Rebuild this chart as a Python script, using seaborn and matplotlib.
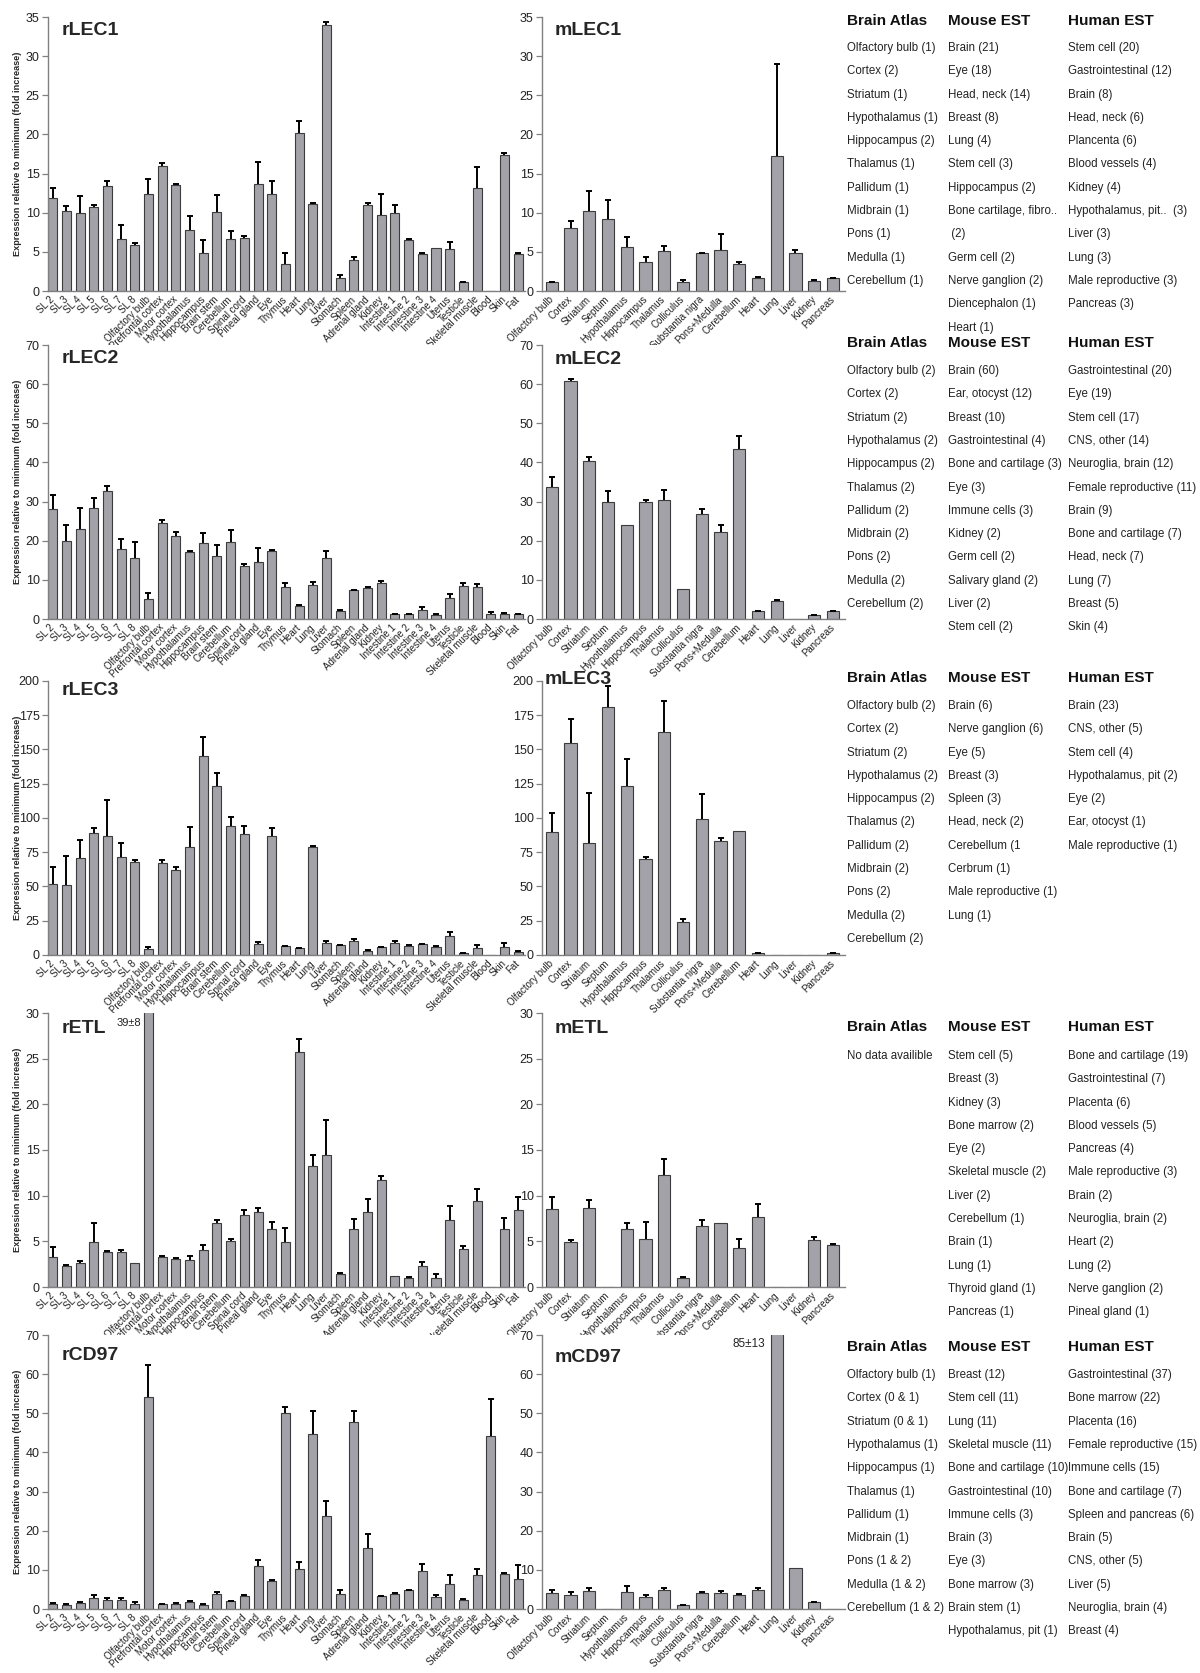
import numpy as np
import pandas as pd
import matplotlib
matplotlib.use('Agg')
import matplotlib.pyplot as plt
import seaborn as sns

# tissues
rat_tissues = ['SL 2', 'SL 3', 'SL 4', 'SL 5', 'SL 6', 'SL 7', 'SL 8', 'Olfactory bulb',
               'Prefrontal cortex', 'Motor cortex', 'Hypothalamus', 'Hippocampus', 'Brain stem',
               'Cerebellum', 'Spinal cord', 'Pineal gland', 'Eye', 'Thymus', 'Heart', 'Lung',
               'Liver', 'Stomach', 'Spleen', 'Adrenal gland', 'Kidney', 'Intestine 1',
               'Intestine 2', 'Intestine 3', 'Intestine 4', 'Uterus', 'Testicle',
               'Skeletal muscle', 'Blood', 'Skin', 'Fat']
mouse_tissues = ['Olfactory bulb', 'Cortex', 'Striatum', 'Septum', 'Hypothalamus', 'Hippocampus',
                 'Thalamus', 'Colliculus', 'Substantia nigra', 'Pons+Medulla', 'Cerebellum',
                 'Heart', 'Lung', 'Liver', 'Kidney', 'Pancreas']

# rat values (mean, upper error)
rlec1 = [11.9, 10.2, 9.9, 10.7, 13.4, 6.6, 5.9, 12.4, 16.0, 13.5, 7.8, 4.9, 10.1, 6.7, 6.8, 13.7,
         12.4, 3.5, 20.2, 11.1, 34.0, 1.6, 3.9, 11.0, 9.7, 10.0, 6.5, 4.7, 5.5, 5.4, 1.1, 13.1,
         0, 17.4, 4.7]
rlec1_err = [1.3, 0.6, 2.2, 0.3, 0.7, 1.8, 0.2, 1.9, 0.3, 0.2, 1.8, 1.6, 2.1, 1.0, 0.2, 2.8, 1.7,
             1.3, 1.5, 0.2, 0.4, 0.5, 0.4, 0.3, 2.7, 1.0, 0.1, 0.2, 0, 0.8, 0.05, 2.7, 0, 0.2, 0.1]
rlec2 = [28.0, 19.9, 22.9, 28.3, 32.7, 17.8, 15.6, 5.1, 24.4, 21.3, 17.2, 19.4, 16.2, 19.6, 13.6,
         14.5, 17.3, 8.2, 3.4, 8.8, 15.7, 2.1, 7.4, 8.0, 9.2, 1.3, 1.3, 2.4, 1.1, 5.4, 8.5, 8.1,
         1.4, 1.4, 1.2]
rlec2_err = [3.7, 4.0, 5.5, 2.6, 1.3, 2.6, 4.0, 1.5, 1.0, 0.9, 0.1, 2.5, 2.7, 3.2, 0.4, 3.6, 0.4,
             1.1, 0.1, 0.6, 1.7, 0.2, 0.1, 0.3, 0.5, 0.05, 0.1, 0.6, 0.1, 1.0, 0.8, 0.8, 0.3, 0.2, 0.1]
rlec3 = [51.5, 51, 71, 89, 87, 71.5, 68, 4.5, 67.5, 62, 79, 145.5, 123, 94, 88, 8, 86.5, 6.5, 5,
         78.5, 9, 7, 10.5, 3, 5.5, 9, 6.5, 8, 6, 14, 1.2, 5, 0, 6, 2.5]
rlec3_err = [12.5, 21.5, 13, 3.5, 26.5, 10, 1.5, 1.5, 1.5, 2.5, 14.5, 13.5, 10, 6.8, 6, 1.5, 6.5,
             0.3, 0.2, 0.8, 1, 0.5, 1.5, 0.5, 0.5, 1.5, 0.8, 0.3, 0.3, 3, 0.2, 2.5, 0, 2.5, 0.4]
retl = [3.3, 2.3, 2.6, 4.9, 3.8, 3.8, 2.6, 39, 3.3, 3.1, 3.0, 4.1, 7.0, 5.0, 7.9, 8.2, 6.3, 4.9,
        25.7, 13.3, 14.4, 1.4, 6.4, 8.2, 11.7, 1.2, 1.0, 2.3, 1.0, 7.3, 4.2, 9.4, 0, 6.3, 8.4]
retl_err = [1.1, 0.1, 0.3, 2.1, 0.1, 0.3, 0, 8, 0.1, 0.05, 0.4, 0.5, 0.3, 0.3, 0.5, 0.4, 0.8, 1.6,
            1.4, 1.1, 3.9, 0.1, 1.0, 1.4, 0.5, 0, 0.05, 0.4, 0.4, 1.6, 0.3, 1.3, 0, 1.3, 1.5]
rcd97 = [1.4, 1.1, 1.6, 2.9, 2.4, 2.4, 1.4, 54.1, 1.2, 1.4, 1.9, 1.0, 3.9, 2.0, 3.4, 11.0, 7.1,
         50.2, 10.1, 44.6, 23.8, 3.9, 47.9, 15.6, 3.2, 3.9, 4.9, 9.8, 3.1, 6.4, 2.3, 8.8, 44.2,
         9.0, 7.6]
rcd97_err = [0.1, 0.3, 0.1, 0.7, 0.3, 0.5, 0.5, 8.2, 0.1, 0.05, 0.2, 0.2, 0.4, 0.1, 0.2, 1.5, 0.2,
             1.3, 1.8, 6.1, 3.8, 1.0, 2.8, 3.6, 0.1, 0.1, 0.05, 1.7, 0.5, 2.2, 0.2, 1.4, 9.4, 0.2, 3.6]

# mouse values
mlec1 = [1.1, 8.0, 10.2, 9.2, 5.6, 3.7, 5.1, 1.1, 4.8, 5.3, 3.5, 1.7, 17.2, 4.8, 1.3, 1.6]
mlec1_err = [0.1, 1.0, 2.6, 2.4, 1.3, 0.7, 0.6, 0.3, 0.1, 2.0, 0.2, 0.1, 11.8, 0.5, 0.05, 0.05]
mlec2 = [33.6, 60.7, 40.4, 29.8, 24.0, 30.0, 30.3, 7.6, 26.8, 22.3, 43.5, 2.0, 4.6, 0, 1.0, 2.0]
mlec2_err = [2.8, 0.5, 1.0, 2.9, 0, 0.5, 2.7, 0, 1.3, 1.8, 3.2, 0.1, 0.3, 0, 0.1, 0.1]
mlec3 = [89.5, 154.5, 82, 181, 123.5, 70, 162.5, 24, 99.5, 83.5, 90.5, 1.5, 0, 0, 0, 1.2]
mlec3_err = [14.5, 17.5, 36, 15.5, 19.5, 1.5, 23, 2.5, 18, 2, 0, 0.3, 0, 0, 0, 0.2]
metl = [8.5, 4.9, 8.7, 0, 6.3, 5.3, 12.3, 1.0, 6.7, 7.0, 4.3, 7.7, 0, 0, 5.1, 4.6]
metl_err = [1.4, 0.2, 0.8, 0, 0.7, 1.8, 1.7, 0.05, 0.6, 0, 1.0, 1.4, 0, 0, 0.4, 0.1]
mcd97 = [4.1, 3.6, 4.7, 0, 4.3, 3.1, 4.8, 0.9, 4.1, 4.1, 3.6, 4.8, 85, 10.5, 1.7, 0]
mcd97_err = [0.7, 0.7, 0.7, 0, 1.6, 0.4, 0.6, 0.1, 0.2, 0.6, 0.3, 0.6, 13, 0, 0.1, 0]

# tables
atlas1 = ['Olfactory bulb (1)', 'Cortex (2)', 'Striatum (1)', 'Hypothalamus (1)', 'Hippocampus (2)',
          'Thalamus (1)', 'Pallidum (1)', 'Midbrain (1)', 'Pons (1)', 'Medulla (1)', 'Cerebellum (1)']
mest1 = ['Brain (21)', 'Eye (18)', 'Head, neck (14)', 'Breast (8)', 'Lung (4)', 'Stem cell (3)',
         'Hippocampus (2)', 'Bone cartilage, fibro..', ' (2)', 'Germ cell (2)', 'Nerve ganglion (2)',
         'Diencephalon (1)', 'Heart (1)']
hest1 = ['Stem cell (20)', 'Gastrointestinal (12)', 'Brain (8)', 'Head, neck (6)', 'Plancenta (6)',
         'Blood vessels (4)', 'Kidney (4)', 'Hypothalamus, pit..  (3)', 'Liver (3)', 'Lung (3)',
         'Male reproductive (3)', 'Pancreas (3)']
atlas2 = ['Olfactory bulb (2)', 'Cortex (2)', 'Striatum (2)', 'Hypothalamus (2)', 'Hippocampus (2)',
          'Thalamus (2)', 'Pallidum (2)', 'Midbrain (2)', 'Pons (2)', 'Medulla (2)', 'Cerebellum (2)']
mest2 = ['Brain (60)', 'Ear, otocyst (12)', 'Breast (10)', 'Gastrointestinal (4)',
         'Bone and cartilage (3)', 'Eye (3)', 'Immune cells (3)', 'Kidney (2)', 'Germ cell (2)',
         'Salivary gland (2)', 'Liver (2)', 'Stem cell (2)']
hest2 = ['Gastrointestinal (20)', 'Eye (19)', 'Stem cell (17)', 'CNS, other (14)',
         'Neuroglia, brain (12)', 'Female reproductive (11)', 'Brain (9)', 'Bone and cartilage (7)',
         'Head, neck (7)', 'Lung (7)', 'Breast (5)', 'Skin (4)']
atlas3 = atlas2
mest3 = ['Brain (6)', 'Nerve ganglion (6)', 'Eye (5)', 'Breast (3)', 'Spleen (3)', 'Head, neck (2)',
         'Cerebellum (1', 'Cerbrum (1)', 'Male reproductive (1)', 'Lung (1)']
hest3 = ['Brain (23)', 'CNS, other (5)', 'Stem cell (4)', 'Hypothalamus, pit (2)', 'Eye (2)',
         'Ear, otocyst (1)', 'Male reproductive (1)']
atlas4 = ['No data availible']
mest4 = ['Stem cell (5)', 'Breast (3)', 'Kidney (3)', 'Bone marrow (2)', 'Eye (2)',
         'Skeletal muscle (2)', 'Liver (2)', 'Cerebellum (1)', 'Brain (1)', 'Lung (1)',
         'Thyroid gland (1)', 'Pancreas (1)']
hest4 = ['Bone and cartilage (19)', 'Gastrointestinal (7)', 'Placenta (6)', 'Blood vessels (5)',
         'Pancreas (4)', 'Male reproductive (3)', 'Brain (2)', 'Neuroglia, brain (2)', 'Heart (2)',
         'Lung (2)', 'Nerve ganglion (2)', 'Pineal gland (1)']
atlas5 = ['Olfactory bulb (1)', 'Cortex (0 & 1)', 'Striatum (0 & 1)', 'Hypothalamus (1)',
          'Hippocampus (1)', 'Thalamus (1)', 'Pallidum (1)', 'Midbrain (1)', 'Pons (1 & 2)',
          'Medulla (1 & 2)', 'Cerebellum (1 & 2)']
mest5 = ['Breast (12)', 'Stem cell (11)', 'Lung (11)', 'Skeletal muscle (11)',
         'Bone and cartilage (10)', 'Gastrointestinal (10)', 'Immune cells (3)', 'Brain (3)',
         'Eye (3)', 'Bone marrow (3)', 'Brain stem (1)', 'Hypothalamus, pit (1)']
hest5 = ['Gastrointestinal (37)', 'Bone marrow (22)', 'Placenta (16)', 'Female reproductive (15)',
         'Immune cells (15)', 'Bone and cartilage (7)', 'Spleen and pancreas (6)', 'Brain (5)',
         'CNS, other (5)', 'Liver (5)', 'Neuroglia, brain (4)', 'Breast (4)']

sns.set_style('white')
plt.rcParams['font.family'] = ['Liberation Sans', 'DejaVu Sans']

BAR = '#a2a2a8'
EDGE = '#3c3c3c'
AXC = '#808080'
W, H = 1200, 1673

fig = plt.figure(figsize=(12, 16.73), dpi=100)


def pos(left, top, w, h):
    return [left / W, 1 - (top + h) / H, w / W, h / H]


def panel(ax, labels, vals, errs, ymax, ystep, title, tx, ty, xlim, ylabel=None):
    df = pd.DataFrame({'tissue': labels, 'value': vals})
    sns.barplot(data=df, x='tissue', y='value', order=labels, color=BAR, saturation=1,
                width=0.66, edgecolor=EDGE, linewidth=0.8, errorbar=None, ax=ax)
    v = np.array(vals, dtype=float)
    e = np.array(errs, dtype=float)
    idx = np.arange(len(v))
    m = e > 0
    # one-sided (upper) error bars
    ax.vlines(idx[m], v[m], v[m] + e[m], color='black', lw=1.4, zorder=3)
    ax.plot(idx[m], v[m] + e[m], ls='none', marker='_', ms=5, mew=1.4, color='black', zorder=3)
    ax.set_xlim(*xlim)
    ax.set_ylim(0, ymax)
    ax.set_yticks(np.arange(0, ymax + 0.1, ystep))
    ax.set_xticks(idx)
    ax.set_xticklabels(labels, rotation=45, ha='right', va='center', rotation_mode='anchor',
                       fontsize=7, color='#222222')
    ax.tick_params(axis='x', length=0, pad=5)
    ax.tick_params(axis='y', left=True, length=4, width=0.9, color=AXC, labelsize=9, pad=2,
                   labelcolor='#222222')
    sns.despine(ax=ax)
    for s in ['left', 'bottom']:
        ax.spines[s].set_color(AXC)
        ax.spines[s].set_linewidth(1.0)
    ax.set_xlabel('')
    if ylabel:
        ax.set_ylabel(ylabel, fontsize=6.6, fontweight='bold')
        ax.yaxis.set_label_coords(-0.055, 0.5)
    else:
        ax.set_ylabel('')
    ax.text(tx, ty, title, transform=ax.transAxes, fontsize=14, fontweight='bold',
            va='baseline', ha='left')


ylab = 'Expression relative to minimum (fold increase)'
rat_xlim = (-0.34, 34.5)
mouse_xlim = (-0.52, 15.64)
tops = [17, 345, 681, 1013, 1335]
PH = 274

rows = [
    (rlec1, rlec1_err, mlec1, mlec1_err, 35, 5, 'rLEC1', 'mLEC1', (0.934, 0.934), (0.043, 0.934)),
    (rlec2, rlec2_err, mlec2, mlec2_err, 70, 10, 'rLEC2', 'mLEC2', (0.934, 0.93), (0.043, 0.93)),
    (rlec3, rlec3_err, mlec3, mlec3_err, 200, 25, 'rLEC3', 'mLEC3', (0.95, 0.99), (0.01, 0.99)),
    (retl, retl_err, metl, metl_err, 30, 5, 'rETL', 'mETL', (0.927, 0.927), (0.043, 0.927)),
    (rcd97, rcd97_err, mcd97, mcd97_err, 70, 10, 'rCD97', 'mCD97', (0.91, 0.90), (0.043, 0.90)),
]

rat_axes, mouse_axes = [], []
for r, (rv, re, mv, me, ymax, ystep, rt, mt, tys, mpos) in enumerate(rows):
    axr = fig.add_axes(pos(48, tops[r], 477, PH))
    panel(axr, rat_tissues, rv, re, ymax, ystep, rt, 0.028, tys[0], rat_xlim, ylab)
    axm = fig.add_axes(pos(542, tops[r], 303, PH))
    panel(axm, mouse_tissues, mv, me, ymax, ystep, mt, mpos[0], mpos[1], mouse_xlim)
    rat_axes.append(axr)
    mouse_axes.append(axm)

# off-scale values
rat_axes[3].text(6.45, 28.9, '39\u00b18', fontsize=8, ha='right', va='center', color='#222222')
mouse_axes[4].text(11.4, 67.6, '85\u00b113', fontsize=8.5, ha='right', va='center', color='#222222')

# tables
tables = [(atlas1, mest1, hest1), (atlas2, mest2, hest2), (atlas3, mest3, hest3),
          (atlas4, mest4, hest4), (atlas5, mest5, hest5)]
header_y = [21, 343, 678, 1027, 1347]
first_y = [48, 371, 706, 1056, 1375]
col_x = [847, 948, 1068]
headers = ['Brain Atlas', 'Mouse EST', 'Human EST']
step = 23.3
for r, cols in enumerate(tables):
    for c, entries in enumerate(cols):
        fig.text(col_x[c] / W, 1 - header_y[r] / H, headers[c], fontsize=11, fontweight='bold',
                 va='center', ha='left', color='#111111')
        for k, t in enumerate(entries):
            fig.text(col_x[c] / W, 1 - (first_y[r] + k * step) / H, t, fontsize=8.3,
                     va='center', ha='left', color='#222222')

fig.savefig('out.png', dpi=100)
